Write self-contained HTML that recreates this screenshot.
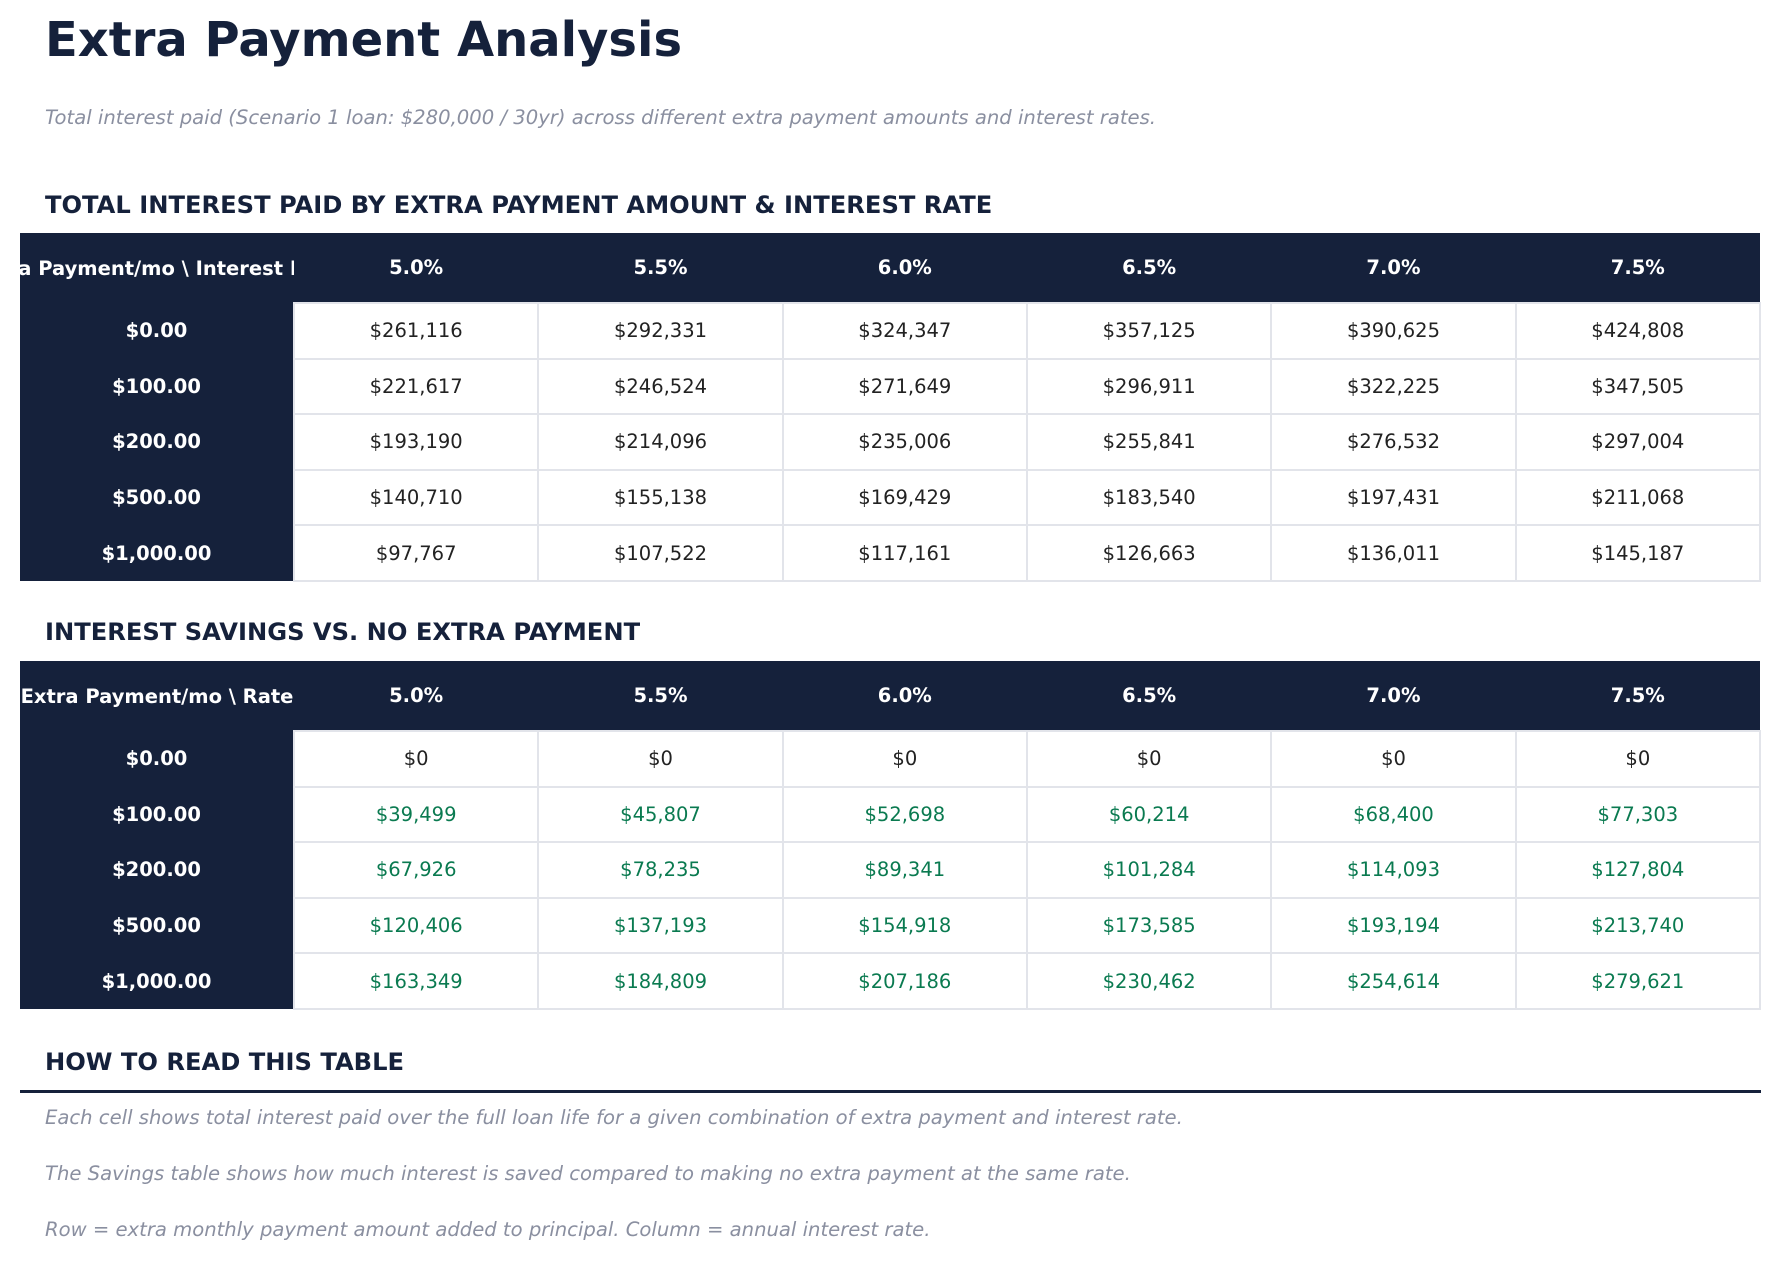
<!DOCTYPE html>
<html><head><meta charset="utf-8"><style>
*{margin:0;padding:0;box-sizing:border-box}
body{width:1782px;height:1262px;background:#fff;font-family:"DejaVu Sans","Liberation Sans",sans-serif;position:relative;overflow:hidden;color:#15213b}
.abs{position:absolute;white-space:nowrap}
h1{position:absolute;left:45px;top:14px;font-size:48px;line-height:52px;font-weight:bold;color:#15213b}
.sub{left:45px;font-size:19.6px;line-height:24px;font-style:italic;color:#8a8fa0}
.h2{left:45px;font-size:24.2px;line-height:28px;font-weight:bold;color:#15213b}
table{position:absolute;left:20px;width:1741px;border-collapse:collapse;table-layout:fixed;font-size:19.5px}
th{background:#15213b;color:#fff;font-weight:bold;height:70px;overflow:hidden;white-space:nowrap;text-align:center;padding:0}
td{height:55.6px;text-align:center;border:2px solid #e2e4ea;color:#222;white-space:nowrap}
td.r{background:#15213b;color:#fff;font-weight:bold;border:none}
td.g{color:#0a7a50}
.line{position:absolute;left:20px;width:1741px;top:1090px;height:3px;background:#15213b}
</style></head><body>
<h1>Extra Payment Analysis</h1>
<div class="abs sub" style="top:106px">Total interest paid (Scenario 1 loan: $280,000 / 30yr) across different extra payment amounts and interest rates.</div>
<div class="abs h2" style="top:191px">TOTAL INTEREST PAID BY EXTRA PAYMENT AMOUNT &amp; INTEREST RATE</div>
<table style="top:233px">
<colgroup><col style="width:274px"><col><col><col><col><col><col></colgroup>
<tr><th><div style="width:274px;overflow:hidden;display:flex;justify-content:center"><span style="white-space:nowrap">Extra Payment/mo \ Interest Rate</span></div></th><th>5.0%</th><th>5.5%</th><th>6.0%</th><th>6.5%</th><th>7.0%</th><th>7.5%</th></tr>
<tr><td class="r">$0.00</td><td>$261,116</td><td>$292,331</td><td>$324,347</td><td>$357,125</td><td>$390,625</td><td>$424,808</td></tr>
<tr><td class="r">$100.00</td><td>$221,617</td><td>$246,524</td><td>$271,649</td><td>$296,911</td><td>$322,225</td><td>$347,505</td></tr>
<tr><td class="r">$200.00</td><td>$193,190</td><td>$214,096</td><td>$235,006</td><td>$255,841</td><td>$276,532</td><td>$297,004</td></tr>
<tr><td class="r">$500.00</td><td>$140,710</td><td>$155,138</td><td>$169,429</td><td>$183,540</td><td>$197,431</td><td>$211,068</td></tr>
<tr><td class="r">$1,000.00</td><td>$97,767</td><td>$107,522</td><td>$117,161</td><td>$126,663</td><td>$136,011</td><td>$145,187</td></tr>
</table>
<div class="abs h2" style="top:618px">INTEREST SAVINGS VS. NO EXTRA PAYMENT</div>
<table style="top:661px">
<colgroup><col style="width:274px"><col><col><col><col><col><col></colgroup>
<tr><th><div style="width:274px;overflow:hidden;display:flex;justify-content:center"><span style="white-space:nowrap">Extra Payment/mo \ Rate</span></div></th><th>5.0%</th><th>5.5%</th><th>6.0%</th><th>6.5%</th><th>7.0%</th><th>7.5%</th></tr>
<tr><td class="r">$0.00</td><td>$0</td><td>$0</td><td>$0</td><td>$0</td><td>$0</td><td>$0</td></tr>
<tr><td class="r">$100.00</td><td class="g">$39,499</td><td class="g">$45,807</td><td class="g">$52,698</td><td class="g">$60,214</td><td class="g">$68,400</td><td class="g">$77,303</td></tr>
<tr><td class="r">$200.00</td><td class="g">$67,926</td><td class="g">$78,235</td><td class="g">$89,341</td><td class="g">$101,284</td><td class="g">$114,093</td><td class="g">$127,804</td></tr>
<tr><td class="r">$500.00</td><td class="g">$120,406</td><td class="g">$137,193</td><td class="g">$154,918</td><td class="g">$173,585</td><td class="g">$193,194</td><td class="g">$213,740</td></tr>
<tr><td class="r">$1,000.00</td><td class="g">$163,349</td><td class="g">$184,809</td><td class="g">$207,186</td><td class="g">$230,462</td><td class="g">$254,614</td><td class="g">$279,621</td></tr>
</table>
<div class="abs h2" style="top:1048px">HOW TO READ THIS TABLE</div>
<div class="line"></div>
<div class="abs sub" style="top:1106px">Each cell shows total interest paid over the full loan life for a given combination of extra payment and interest rate.</div>
<div class="abs sub" style="top:1162px">The Savings table shows how much interest is saved compared to making no extra payment at the same rate.</div>
<div class="abs sub" style="top:1218px">Row = extra monthly payment amount added to principal. Column = annual interest rate.</div>
</body></html>
